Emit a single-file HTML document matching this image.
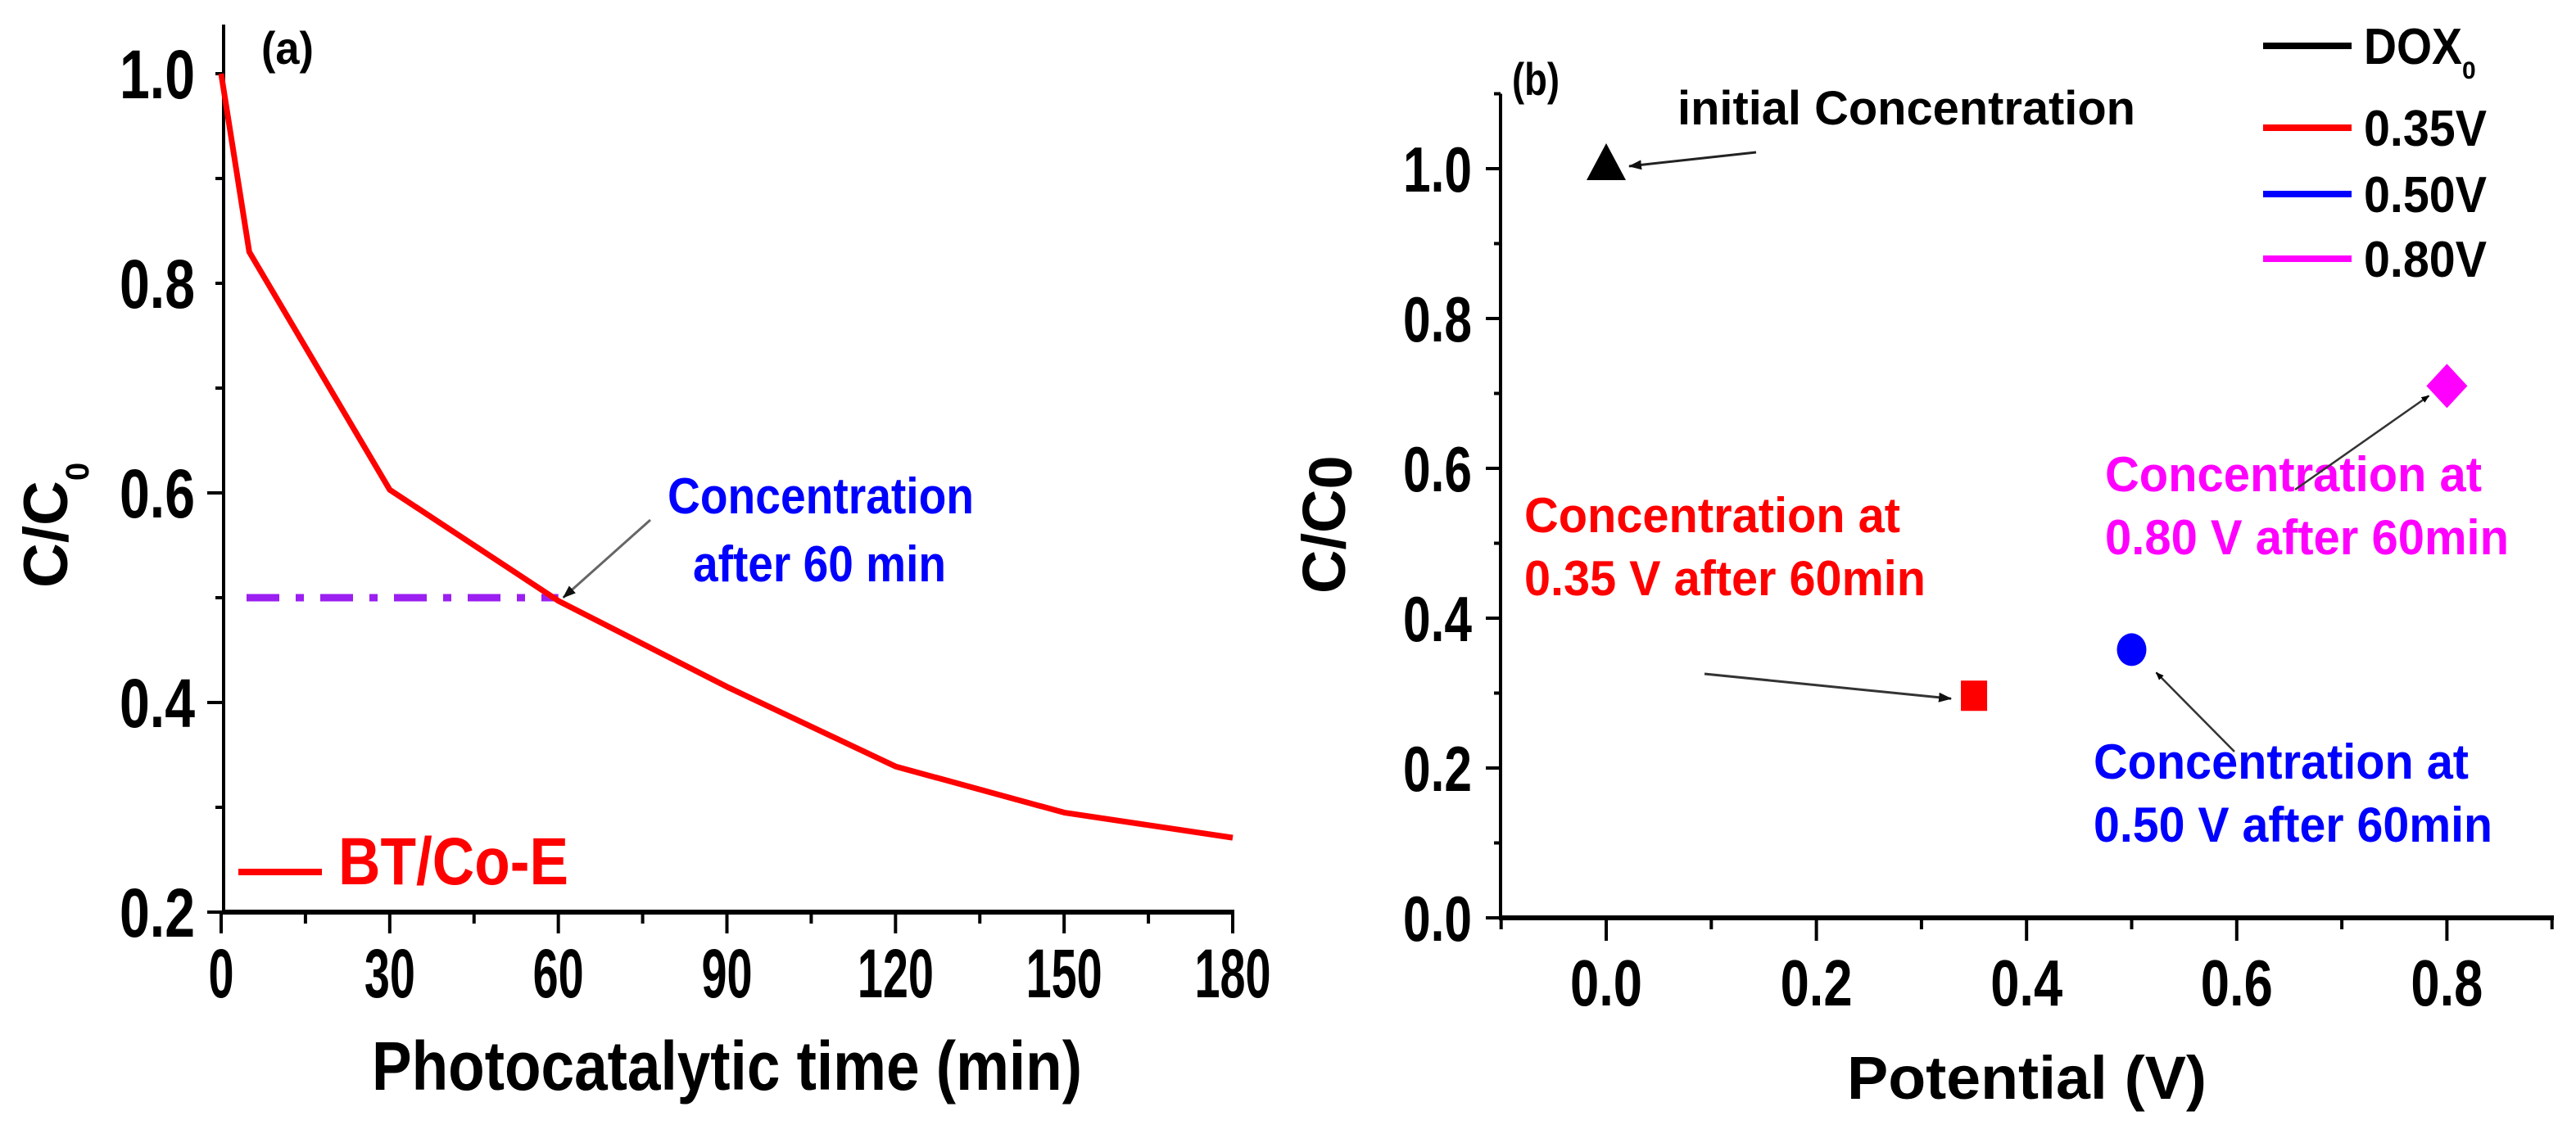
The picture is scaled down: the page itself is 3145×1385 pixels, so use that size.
<!DOCTYPE html>
<html><head><meta charset="utf-8"><style>
html,body{margin:0;padding:0;background:#fff;}
svg{display:block;}
text{font-family:"Liberation Sans",Arial,sans-serif;font-weight:bold;}
</style></head><body>
<svg id="fig" width="3145" height="1385" viewBox="0 0 3145 1385" xmlns="http://www.w3.org/2000/svg">
<defs>
<marker id="ah" markerWidth="10" markerHeight="8" refX="9" refY="4" orient="auto" markerUnits="userSpaceOnUse"><path d="M0,0 L10,4 L0,8 z" fill="#000"/></marker>
<marker id="ahb" markerWidth="16" markerHeight="12" refX="15" refY="6" orient="auto" markerUnits="userSpaceOnUse"><path d="M0,0 L16,6 L0,12 z" fill="#111"/></marker>
</defs>
<g id="pa"></g>
<g id="pb"></g>
</svg>
<script>
// Panel (a) data
const timesA = [0, 5, 30, 60, 90, 120, 150, 180];
const concA = [1.0, 0.83, 0.603, 0.497, 0.415, 0.339, 0.295, 0.271];
const refLevelA = [0.5];
const xTicksA = [0, 30, 60, 90, 120, 150, 180];
const yTicksA = [0.2, 0.4, 0.6, 0.8, 1.0];
// Panel (b) data
const potentialsB = [0.0, 0.35, 0.5, 0.8];
const concB = [1.0, 0.297, 0.358, 0.71];
const seriesB = ['DOX0', '0.35V', '0.50V', '0.80V'];
const xTicksB = [0.0, 0.2, 0.4, 0.6, 0.8];
const yTicksB = [0.0, 0.2, 0.4, 0.6, 0.8, 1.0];

const NS = 'http://www.w3.org/2000/svg';
function mk(parent, tag, attrs, txt){
  const e = document.createElementNS(NS, tag);
  for (const k in attrs) e.setAttribute(k, attrs[k]);
  if (txt !== undefined) e.textContent = txt;
  parent.appendChild(e);
  return e;
}
function fmt1(v){return v.toFixed(1);}

// ---------- Panel A ----------
const pa = document.getElementById('pa');
const xA = v => 270 + (v - 0) * (1505 - 270) / 180;
const yA = v => 1114 - (v - 0.2) * 1280;
let e;
e = mk(pa, 'line', {x1:273, y1:30, x2:273, y2:1116, stroke:'#000', 'stroke-width':4});


e = mk(pa, 'line', {x1:271, y1:1114, x2:1507, y2:1114, stroke:'#000', 'stroke-width':6});


for (let v = 0.2; v <= 1.001; v += 0.1) {
  const major = Math.abs((v*10) % 2) < 0.01;
  e = mk(pa, 'line', {x1:273 - (major ? 20 : 10), y1:yA(v), x2:273, y2:yA(v), stroke:'#000', 'stroke-width':4});
  
  
}
yTicksA.forEach(v => {
  e = mk(pa, 'text', {x:238, y:yA(v) + 30, 'text-anchor':'end', 'font-size':84, textLength:92, lengthAdjust:'spacingAndGlyphs'}, fmt1(v));
  
  
});
for (let t = 0; t <= 180; t += 15) {
  const major = t % 30 === 0;
  e = mk(pa, 'line', {x1:xA(t), y1:1114, x2:xA(t), y2:1114 + (major ? 26 : 14), stroke:'#000', 'stroke-width':4});
  
  
}
xTicksA.forEach(t => {
  const s = String(t);
  e = mk(pa, 'text', {x:xA(t), y:1218, 'text-anchor':'middle', 'font-size':84, textLength:s.length*31, lengthAdjust:'spacingAndGlyphs'}, s);
  
  
});
e = mk(pa, 'text', {x:454, y:1331, 'font-size':84, textLength:867, lengthAdjust:'spacingAndGlyphs'}, 'Photocatalytic time (min)');


e = mk(pa, 'text', {transform:'translate(82,718) rotate(-90)', 'font-size':76});


mk(e, 'tspan', {}, 'C/C');
mk(e, 'tspan', {'font-size':40, dy:26}, '0');
e = mk(pa, 'text', {x:319, y:78, 'font-size':56, textLength:64, lengthAdjust:'spacingAndGlyphs'}, '(a)');


e = mk(pa, 'line', {x1:301, y1:yA(refLevelA[0]), x2:xA(60), y2:yA(refLevelA[0]), stroke:'#9b1ff0', 'stroke-width':9, 'stroke-dasharray':'40 20 10 20'});


e = mk(pa, 'polyline', {points: timesA.map((t,i)=>xA(t)+','+yA(concA[i])).join(' '), fill:'none', stroke:'#ff0000', 'stroke-width':7, 'stroke-linejoin':'round'});


e = mk(pa, 'line', {x1:794, y1:635, x2:xA(60)+6, y2:yA(concA[3])-4, stroke:'#666', 'stroke-width':3, 'marker-end':'url(#ahb)'});


e = mk(pa, 'text', {x:815, y:627, 'font-size':62, fill:'#0000ff', textLength:374, lengthAdjust:'spacingAndGlyphs'}, 'Concentration');


e = mk(pa, 'text', {x:846, y:710, 'font-size':62, fill:'#0000ff', textLength:309, lengthAdjust:'spacingAndGlyphs'}, 'after 60 min');


e = mk(pa, 'line', {x1:291, y1:1065, x2:393, y2:1065, stroke:'#ff0000', 'stroke-width':8});


e = mk(pa, 'text', {x:413, y:1080, 'font-size':82, fill:'#ff0000', textLength:281, lengthAdjust:'spacingAndGlyphs'}, 'BT/Co-E');



// ---------- Panel B ----------
const pb = document.getElementById('pb');
const xB = v => 1961 + v * 1283;
const yB = v => 1121 - v * 915;
e = mk(pb, 'line', {x1:1832, y1:yB(1.1), x2:1832, y2:1123, stroke:'#000', 'stroke-width':4});


e = mk(pb, 'line', {x1:1830, y1:1121, x2:3118, y2:1121, stroke:'#000', 'stroke-width':6});


for (let k = 0; k <= 11; k++) {
  const v = k/10;
  const major = k % 2 === 0;
  e = mk(pb, 'line', {x1:1832 - (major ? 18 : 8), y1:yB(v), x2:1832, y2:yB(v), stroke:'#000', 'stroke-width':4});
  
  
}
yTicksB.forEach(v => {
  e = mk(pb, 'text', {x:1797, y:yB(v) + 28, 'text-anchor':'end', 'font-size':78, textLength:84, lengthAdjust:'spacingAndGlyphs'}, fmt1(v));
  
  
});
for (let k = -1; k <= 9; k++) {
  const v = k/10;
  const major = k >= 0 && k % 2 === 0;
  e = mk(pb, 'line', {x1:xB(v), y1:1121, x2:xB(v), y2:1121 + (major ? 28 : 14), stroke:'#000', 'stroke-width':4});
  
  
}
xTicksB.forEach(v => {
  e = mk(pb, 'text', {x:xB(v), y:1228, 'text-anchor':'middle', 'font-size':80, textLength:88, lengthAdjust:'spacingAndGlyphs'}, fmt1(v));
  
  
});
e = mk(pb, 'text', {x:2255, y:1342, 'font-size':74, textLength:439, lengthAdjust:'spacingAndGlyphs'}, 'Potential (V)');


e = mk(pb, 'text', {transform:'translate(1642,725) rotate(-90)', 'font-size':74});


mk(e, 'tspan', {}, 'C/C');
mk(e, 'tspan', {dy:8}, '0');
e = mk(pb, 'text', {x:1846, y:116, 'font-size':56, textLength:58, lengthAdjust:'spacingAndGlyphs'}, '(b)');


const colorsB = ['#000000', '#ff0000', '#0000ff', '#ff00ff'];
{
  let cx = xB(potentialsB[0]), cy = yB(concB[0]) - 8;
  e = mk(pb, 'polygon', {points:`${cx},${cy-23} ${cx+24},${cy+22} ${cx-24},${cy+22}`, fill:colorsB[0]});
  
  
  cx = xB(potentialsB[1]); cy = yB(concB[1]);
  e = mk(pb, 'rect', {x:cx-16, y:cy-18, width:32, height:37, fill:colorsB[1]});
  
  
  cx = xB(potentialsB[2]); cy = yB(concB[2]);
  e = mk(pb, 'ellipse', {cx:cx, cy:cy, rx:18, ry:20, fill:colorsB[2]});
  
  
  cx = xB(potentialsB[3]); cy = yB(concB[3]);
  e = mk(pb, 'polygon', {points:`${cx},${cy-27} ${cx+25},${cy} ${cx},${cy+27} ${cx-25},${cy}`, fill:colorsB[3]});
  
  
}
e = mk(pb, 'text', {x:2048, y:152, 'font-size':58, textLength:559, lengthAdjust:'spacingAndGlyphs'}, 'initial Concentration');


e = mk(pb, 'line', {x1:2144, y1:186, x2:xB(potentialsB[0])+28, y2:yB(concB[0])-3, stroke:'#222', 'stroke-width':3, 'marker-end':'url(#ahb)'});


e = mk(pb, 'text', {x:1861, y:650, 'font-size':60, fill:'#ff0000', textLength:459, lengthAdjust:'spacingAndGlyphs'}, 'Concentration at');


e = mk(pb, 'text', {x:1861, y:727, 'font-size':60, fill:'#ff0000', textLength:490, lengthAdjust:'spacingAndGlyphs'}, '0.35 V after 60min');


e = mk(pb, 'line', {x1:2081, y1:823, x2:xB(potentialsB[1])-28, y2:yB(concB[1])+4, stroke:'#333', 'stroke-width':3, 'marker-end':'url(#ahb)'});


e = mk(pb, 'text', {x:2556, y:951, 'font-size':60, fill:'#0000ff', textLength:458, lengthAdjust:'spacingAndGlyphs'}, 'Concentration at');


e = mk(pb, 'text', {x:2556, y:1028, 'font-size':60, fill:'#0000ff', textLength:487, lengthAdjust:'spacingAndGlyphs'}, '0.50 V after 60min');


e = mk(pb, 'line', {x1:2728, y1:918, x2:xB(potentialsB[2])+30, y2:yB(concB[2])+28, stroke:'#333', 'stroke-width':2.5, 'marker-end':'url(#ah)'});


e = mk(pb, 'text', {x:2570, y:600, 'font-size':60, fill:'#ff00ff', textLength:460, lengthAdjust:'spacingAndGlyphs'}, 'Concentration at');


e = mk(pb, 'text', {x:2570, y:677, 'font-size':60, fill:'#ff00ff', textLength:493, lengthAdjust:'spacingAndGlyphs'}, '0.80 V after 60min');


e = mk(pb, 'line', {x1:2802, y1:598, x2:xB(potentialsB[3])-22, y2:yB(concB[3])+12, stroke:'#333', 'stroke-width':2.5, 'marker-end':'url(#ah)'});


const legYs = [56, 156, 237, 316];
seriesB.forEach((s, i) => {
  e = mk(pb, 'line', {x1:2763, y1:legYs[i], x2:2871, y2:legYs[i], stroke:colorsB[i], 'stroke-width':8});
  
  
  const t = mk(pb, 'text', {x:2886, y:legYs[i] + 22, 'font-size':62});
  
  
  if (s === 'DOX0') {
    mk(t, 'tspan', {textLength:120, lengthAdjust:'spacingAndGlyphs'}, 'DOX');
    mk(t, 'tspan', {'font-size':30, dy:18}, '0');
  } else {
    t.setAttribute('textLength', 150);
    t.setAttribute('lengthAdjust', 'spacingAndGlyphs');
    t.textContent = s;
  }
});
</script>
</body></html>
